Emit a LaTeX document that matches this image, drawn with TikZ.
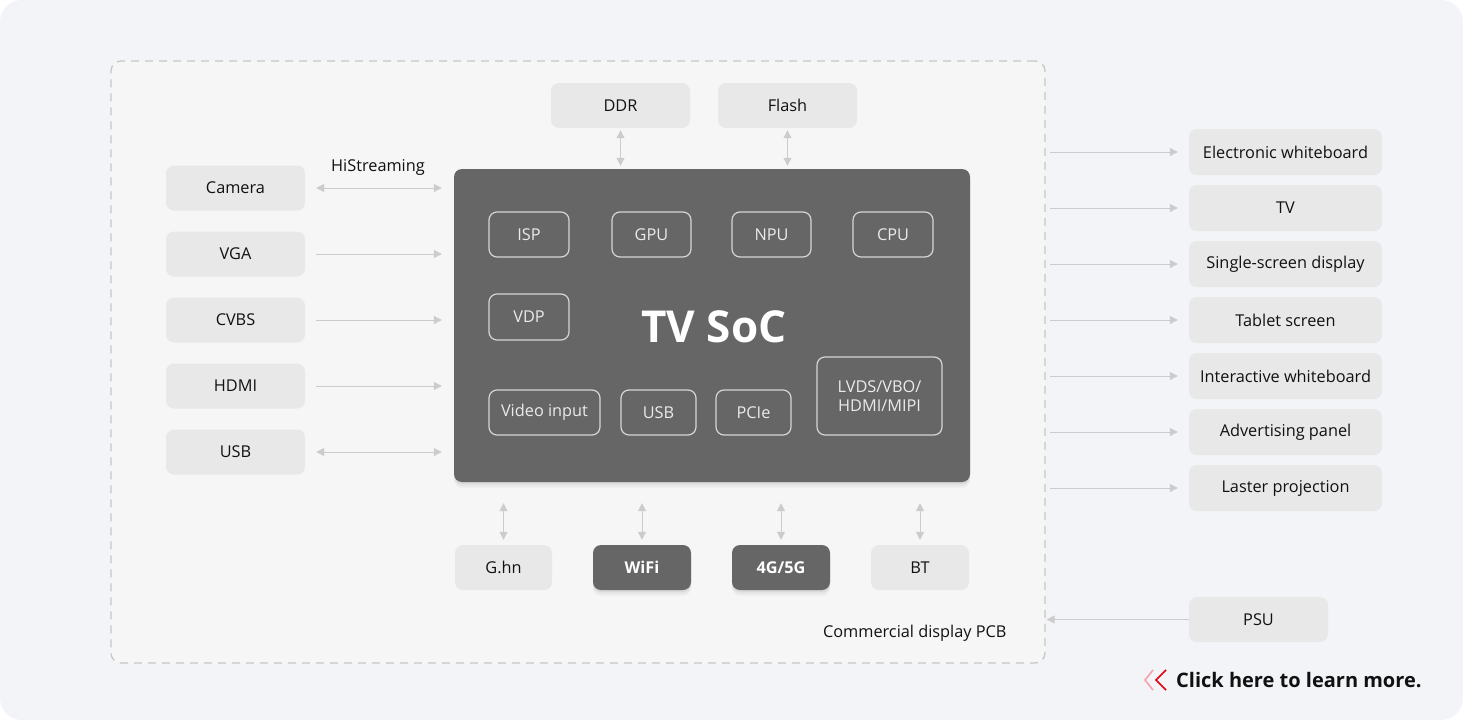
\documentclass[tikz,border=0pt]{standalone}
\usepackage{fontspec}
\setmainfont{Open Sans}
\usetikzlibrary{arrows.meta,shadows,positioning}
\definecolor{page}{HTML}{F2F4F8}
\definecolor{board}{HTML}{F6F6F6}
\definecolor{boxgrey}{HTML}{E8E8E8}
\definecolor{socgrey}{HTML}{666666}
\definecolor{rim}{HTML}{D6D6D6}
\definecolor{wire}{HTML}{CCCCCC}
\definecolor{dashgrey}{HTML}{C6C6C6}
\definecolor{ink}{HTML}{111111}
\definecolor{hired}{HTML}{E60012}
\definecolor{pinkred}{HTML}{F3A3AB}
\newcommand{\lbl}{\fontsize{16.3}{19.5}\selectfont}

\begin{document}
\begin{tikzpicture}[x=1pt,y=-1pt,
  softshadow/.style={
    drop shadow={shadow xshift=0pt,shadow yshift=-6pt,opacity=.05},
    drop shadow={shadow xshift=0pt,shadow yshift=-4pt,opacity=.08},
    drop shadow={shadow xshift=0pt,shadow yshift=-2pt,opacity=.12}},
  part/.style={fill=boxgrey,rounded corners=8pt,inner sep=0,minimum height=45pt,font=\lbl,text=ink,align=center},
  darkpart/.style={part,fill=socgrey,text=white,font=\lbl\bfseries,softshadow},
  unit/.style={draw=rim,line width=1.2pt,rounded corners=8pt,inner sep=0,minimum height=45pt,font=\lbl,text=white!92!black,align=center},
  link/.style={wire,line width=1pt,-{Triangle[length=8pt,width=8pt]}},
  biline/.style={link,{Triangle[length=8pt,width=8pt]}-{Triangle[length=8pt,width=8pt]}}]
% page and board
\fill[white] (0,0) rectangle (1463,720);
\fill[page,rounded corners=22pt] (0,0) rectangle (1463,720);
\node[fill=board,draw=dashgrey,line width=1.3pt,dash pattern=on 8pt off 6pt,rounded corners=10pt,
  minimum width=934pt,minimum height=602pt,inner sep=0] (pcb) at (578,362) {};
\node[anchor=base east,font=\lbl,text=ink] (pcbname) at (1010,637) {Commercial display PCB};
% memory
\node[part,minimum width=139pt] (ddr) at (620.5,105.5) {DDR};
\node[part,minimum width=139pt] (flash) at (787.5,105.5) {Flash};
% SoC
\node[fill=socgrey,rounded corners=8pt,minimum width=516pt,minimum height=313pt,inner sep=0,softshadow] (soc) at (712,325.5) {};
\node[font=\fontsize{44}{50}\selectfont\bfseries,text=white] (socname) at (714,327) {TV SoC};
\node[unit,minimum width=80pt] (isp) at (529,234.5) {ISP};
\node[unit,minimum width=79pt] (gpu) at (651.5,234.5) {GPU};
\node[unit,minimum width=79pt] (npu) at (771.5,234.5) {NPU};
\node[unit,minimum width=80pt] (cpu) at (893,234.5) {CPU};
\node[unit,minimum width=80pt,minimum height=46pt] (vdp) at (529,317) {VDP};
\node[unit,minimum width=111pt] (vin) at (544.5,412.5) {Video input};
\node[unit,minimum width=75pt] (usbc) at (658.5,412.5) {USB};
\node[unit,minimum width=75pt] (pcie) at (753.5,412.5) {PCIe};
\node[unit,minimum width=125pt,minimum height=78pt] (vout) at (879.5,396) {LVDS/VBO/\\HDMI/MIPI};
% inputs
\node[part,minimum width=139pt] (cam) at (235.5,188) {Camera};
\node[part,minimum width=139pt] (vga) at (235.5,254) {VGA};
\node[part,minimum width=139pt] (cvbs) at (235.5,320) {CVBS};
\node[part,minimum width=139pt] (hdmi) at (235.5,386) {HDMI};
\node[part,minimum width=139pt] (usb) at (235.5,452) {USB};
\node[font=\lbl,text=ink] (hist) at (378,167) {HiStreaming};
\draw[biline,shorten <=11pt,shorten >=12pt] (cam.east) -- (cam.east -| soc.west);
\foreach \n in {vga,cvbs,hdmi}
  \draw[link,shorten <=11pt,shorten >=12pt] (\n.east) -- (\n.east -| soc.west);
\draw[biline,shorten <=11pt,shorten >=12pt] (usb.east) -- (usb.east -| soc.west);
\draw[biline,shorten <=2pt,shorten >=3pt] (ddr.south) -- (ddr.south |- soc.north);
\draw[biline,shorten <=2pt,shorten >=3pt] (flash.south) -- (flash.south |- soc.north);
% radios
\node[part,minimum width=97pt] (ghn) at (503.5,567.5) {G.hn};
\node[darkpart,minimum width=98pt] (wifi) at (642,567.5) {WiFi};
\node[darkpart,minimum width=98pt] (cell) at (781,567.5) {4G/5G};
\node[part,minimum width=98pt] (bt) at (920,567.5) {BT};
\foreach \n in {ghn,wifi,cell,bt}
  \draw[biline,shorten <=21pt,shorten >=5pt] (\n.north |- soc.south) -- (\n.north);
% displays
\foreach \n/\t [count=\i from 0] in {ewb/Electronic whiteboard,tv/TV,ssd/Single-screen display,
    tab/Tablet screen,iwb/Interactive whiteboard,adp/Advertising panel,lsr/Laster projection}{
  \node[part,minimum width=193pt,minimum height=46pt] (\n) at (1285.5,152+56*\i) {\t};
  \draw[link,shorten <=4pt,shorten >=11pt] (\n.west -| pcb.east) -- (\n.west);
}
\node[part,minimum width=139pt] (psu) at (1258.5,619.5) {PSU};
\draw[link,shorten >=1pt] (psu.west) -- (psu.west -| pcb.east);
% more link
\node[anchor=base west,inner sep=0,font=\fontsize{20}{24}\selectfont\bfseries,text=ink] (more) at (1176,687) {Click here to learn more.};
\draw[pinkred,line width=1.6pt] ([xshift=-23pt,yshift=17pt]more.base west) -- ([xshift=-31pt,yshift=7pt]more.base west) -- ([xshift=-23pt,yshift=-3pt]more.base west);
\draw[hired,line width=1.6pt] ([xshift=-10pt,yshift=17pt]more.base west) -- ([xshift=-20pt,yshift=7pt]more.base west) -- ([xshift=-10pt,yshift=-3pt]more.base west);
\end{tikzpicture}
\end{document}
